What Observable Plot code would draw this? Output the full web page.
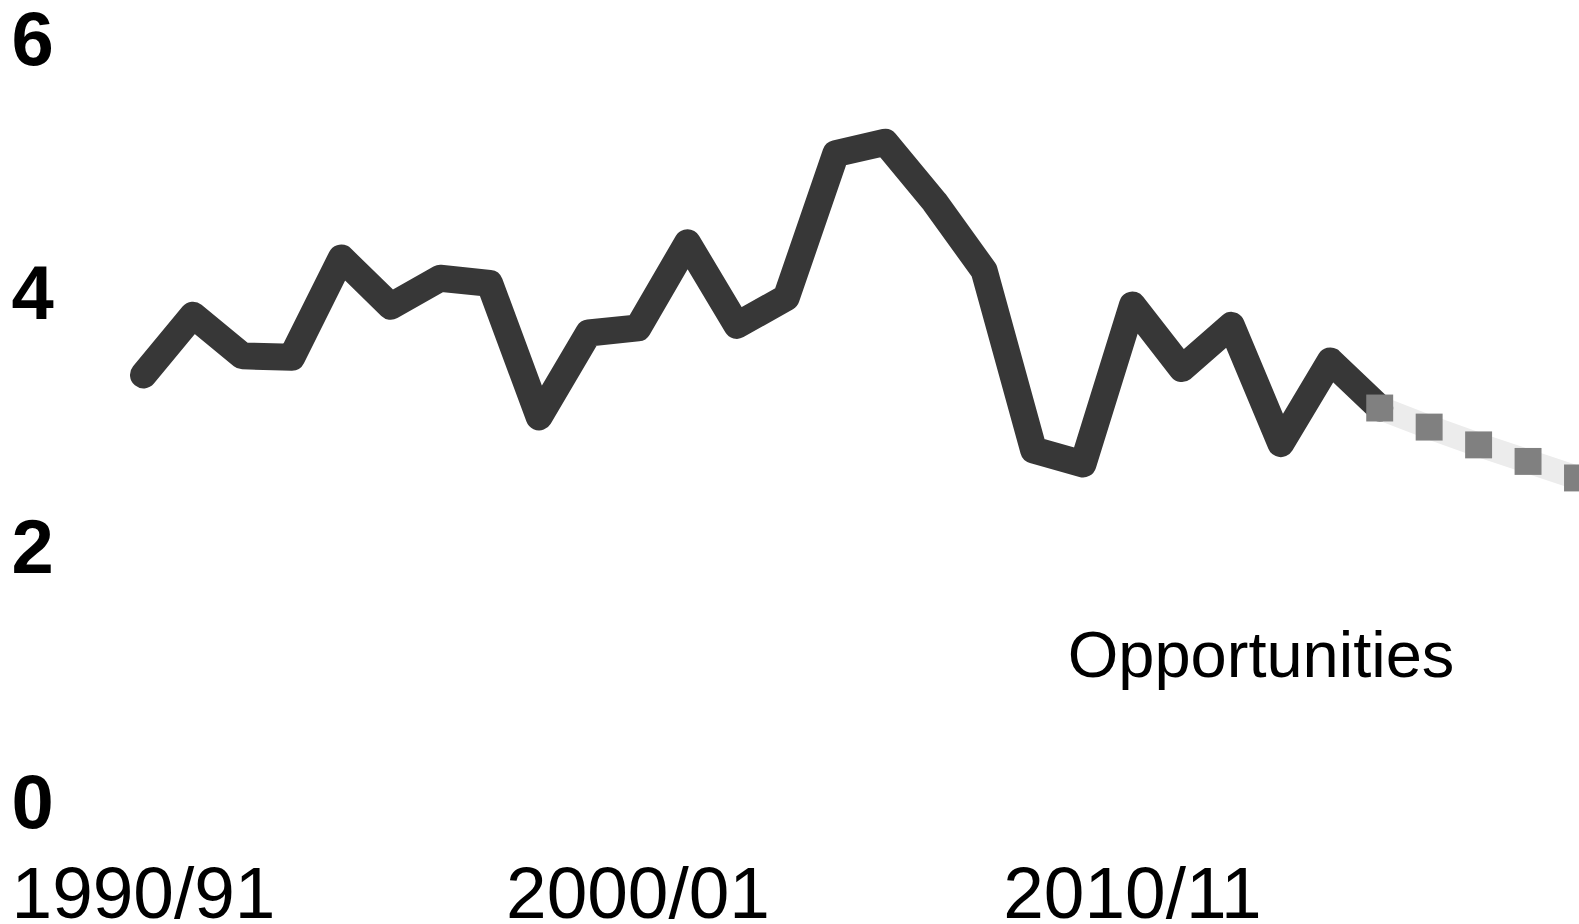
<!DOCTYPE html>
<html>
<head>
<meta charset="utf-8">
<script src="https://cdn.jsdelivr.net/npm/d3@7"></script>
<script src="https://cdn.jsdelivr.net/npm/@observablehq/plot@0.6"></script>
<style>
  html, body { margin: 0; padding: 0; background: #fff; overflow: hidden; }
  #chart svg { display: block; }
</style>
</head>
<body>
<div id="chart"></div>
<script>
// Actual series (financial years, start year)
const years = [1990,1991,1992,1993,1994,1995,1996,1997,1998,1999,2000,2001,2002,2003,2004,2005,2006,2007,2008,2009,2010,2011,2012,2013,2014,2015];
const values = [3.37,3.84,3.52,3.51,4.29,3.91,4.13,4.09,3.04,3.70,3.74,4.41,3.76,3.98,5.11,5.20,4.73,4.19,2.78,2.67,3.92,3.42,3.76,2.83,3.48,3.11];

// Forecast series
const forecastYears = [2015,2016,2017,2018,2019];
const forecastValues = [3.11,2.96,2.82,2.69,2.56];

// Axis ticks
const xTicks = [1990,2000,2010];
const yTicks = [0,2,4,6];

// Annotation
const labelText = ["Opportunities"];
const labelYear = [2012.6];
const labelValue = [1.16];

const actual = years.map((y, i) => ({year: y, value: values[i]}));
const forecast = forecastYears.map((y, i) => ({year: y, value: forecastValues[i]}));
const labels = labelText.map((t, i) => ({text: t, year: labelYear[i], value: labelValue[i]}));

const fy = d => `${d}/${String((d + 1) % 100).padStart(2, "0")}`;

const chart = Plot.plot({
  width: 1579,
  height: 924,
  marginLeft: 11,
  marginRight: 2,
  marginTop: 40,
  marginBottom: 121,
  style: {fontFamily: "'Liberation Sans', Arial, Helvetica, sans-serif", background: "#fff", color: "#000"},
  x: {domain: [1990, 2019], range: [143, 1577]},
  y: {domain: [0, 6]},
  marks: [
    Plot.axisY({ticks: yTicks, tickFormat: d => String(d), tickSize: 0, tickPadding: 0, textAnchor: "start", fontSize: 76, fontWeight: "bold", fill: "#000", label: null}),
    Plot.axisX({ticks: xTicks, tickSize: 0, tickPadding: 63, tickFormat: fy, fontSize: 73, fill: "#000", label: null}),
    Plot.line(forecast, {x: "year", y: "value", stroke: "#ececec", strokeWidth: 24, strokeLinejoin: "round"}),
    Plot.line(actual, {x: "year", y: "value", stroke: "#373737", strokeWidth: 27, strokeLinejoin: "round", strokeLinecap: "round"}),
    Plot.dot(forecast, {x: "year", y: "value", symbol: "square", r: 15.2, fill: "#808080", stroke: null}),
    Plot.text(labels, {x: "year", y: "value", text: "text", fontSize: 65, fill: "#000", textAnchor: "middle"})
  ]
});

document.getElementById("chart").appendChild(chart);
</script>
</body>
</html>
